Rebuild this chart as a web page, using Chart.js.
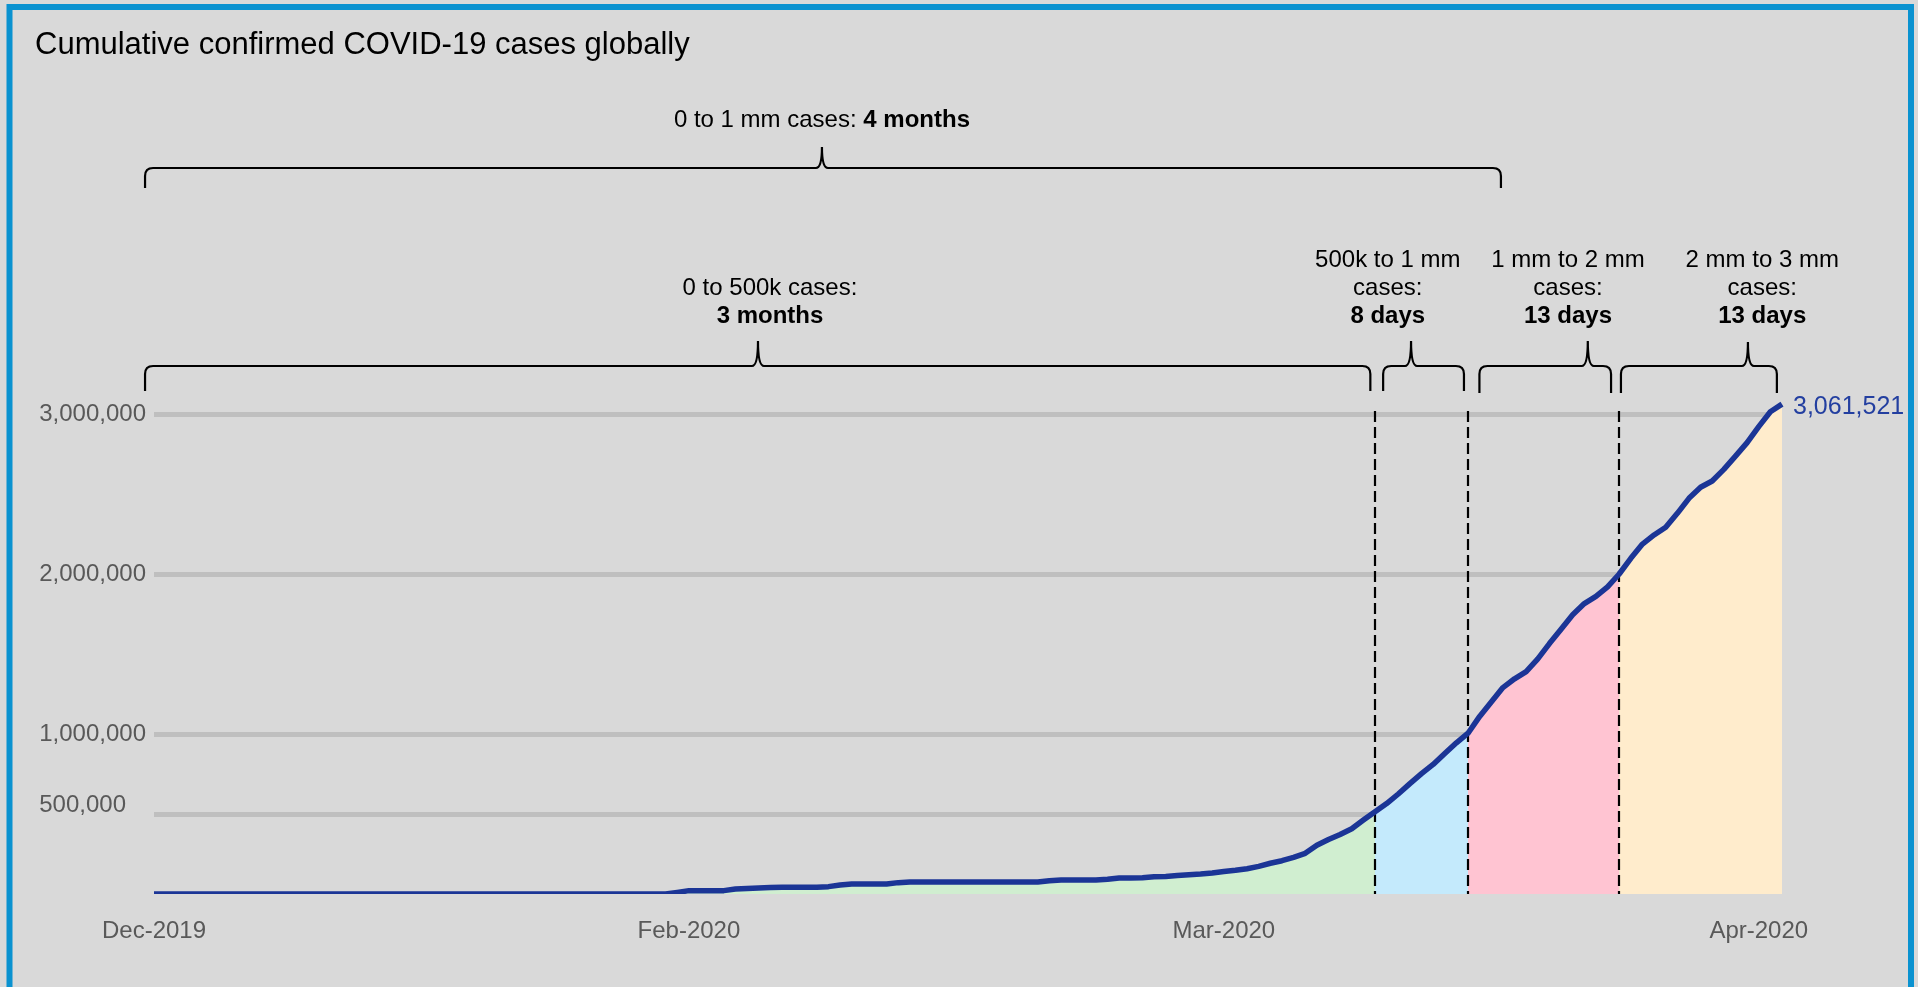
<!DOCTYPE html>
<html>
<head>
<meta charset="utf-8">
<title>Cumulative confirmed COVID-19 cases globally</title>
<script src="https://cdn.jsdelivr.net/npm/chart.js@4.4.1/dist/chart.umd.min.js"></script>
<style>
  html, body { margin: 0; padding: 0; background: #d9d9d9; overflow: hidden; }
  canvas { display: block; }
</style>
</head>
<body>
<canvas id="chart" width="1918" height="987"></canvas>
<script>
// Cumulative confirmed cases, one value per day
const cases = [
  0, 0, 0, 0, 0, 0, 0, 0, 0, 0,
  0, 0, 0, 0, 0, 0, 0, 0, 0, 0,
  0, 0, 0, 0, 0, 0, 0, 0, 0, 0,
  0, 0, 0, 0, 0, 0, 0, 0, 0, 0,
  0, 0, 0, 0, 0, 10000, 21000, 21000, 21000, 21000,
  31000, 35000, 37500, 40000, 42000, 42000, 42000, 42000, 46000, 56000,
  62000, 62000, 62000, 62000, 71000, 75000, 75000, 75000, 75000, 75000,
  75000, 75000, 75000, 75000, 75000, 75000, 75000, 83000, 87500, 87500,
  87500, 87500, 92000, 100000, 100000, 102000, 108000, 110000, 115000, 121000,
  125000, 131000, 140000, 148000, 158000, 173000, 192000, 208000, 229000, 254000,
  305000, 340000, 372000, 408000, 462000, 514000, 565000, 625000, 690000, 752000,
  810000, 878000, 945000, 1005000, 1110000, 1200000, 1290000, 1345000, 1390000, 1470000,
  1565000, 1655000, 1745000, 1815000, 1860000, 1920000, 2000000, 2098000, 2187000, 2244000,
  2292000, 2379000, 2473000, 2542000, 2581000, 2654000, 2737000, 2821000, 2921000, 3014000,
  3061521
];

// Month labels shown on the date axis and the day they sit on
const xTickLabels = ['Dec-2019', 'Feb-2020', 'Mar-2020', 'Apr-2020'];
const xTickDays = [0, 46, 92, 138];

// Value axis ticks
const yTickValues = [500000, 1000000, 2000000, 3000000];

// Days on which 500k, 1 mm and 2 mm cases were passed (first and last day close the ranges)
const phaseDays = [0, 105, 113, 126, 140];
const phaseColors = ['#d0eed0', '#c4eafc', '#ffc4d2', '#ffeccc'];

const categories = cases.map((_, i) => i);

const FONT = "'Liberation Sans', Arial, Helvetica, sans-serif";

// Curly-brace call-outs above the curve: spans and texts are given in days
const braces = [
  { from: -0.77, to: 115.83, tip: 57.44, y: 168, drop: 20, rise: 21, textAt: 57.44, baseline: 127,
    rows: [[['0 to 1 mm cases: ', 'normal'], ['4 months', 'bold']]] },
  { from: -0.77, to: 104.6, tip: 51.94, y: 366, drop: 25, rise: 25, textAt: 52.97, baseline: 295,
    rows: [[['0 to 500k cases:', 'normal']], [['3 months', 'bold']]] },
  { from: 105.7, to: 112.65, tip: 108.1, y: 366, drop: 25, rise: 25, textAt: 106.1, baseline: 267,
    rows: [[['500k to 1 mm', 'normal']], [['cases:', 'normal']], [['8 days', 'bold']]] },
  { from: 113.98, to: 125.3, tip: 123.3, y: 366, drop: 27, rise: 25, textAt: 121.6, baseline: 267,
    rows: [[['1 mm to 2 mm', 'normal']], [['cases:', 'normal']], [['13 days', 'bold']]] },
  { from: 126.15, to: 139.56, tip: 137.07, y: 366, drop: 27, rise: 24, textAt: 138.3, baseline: 267,
    rows: [[['2 mm to 3 mm', 'normal']], [['cases:', 'normal']], [['13 days', 'bold']]] }
];

function drawBrace(ctx, x1, x2, xt, y, drop, rise) {
  const r = 8, rt = 6;
  ctx.beginPath();
  ctx.moveTo(x1, y + drop);
  ctx.lineTo(x1, y + r);
  ctx.quadraticCurveTo(x1, y, x1 + r, y);
  ctx.lineTo(xt - rt, y);
  ctx.quadraticCurveTo(xt, y, xt, y - rise);
  ctx.quadraticCurveTo(xt, y, xt + rt, y);
  ctx.lineTo(x2 - r, y);
  ctx.quadraticCurveTo(x2, y, x2, y + r);
  ctx.lineTo(x2, y + drop);
  ctx.stroke();
}

function drawRow(ctx, parts, cx, baseline, size) {
  let total = 0;
  const widths = parts.map(([txt, weight]) => {
    ctx.font = weight + ' ' + size + 'px ' + FONT;
    const w = ctx.measureText(txt).width;
    total += w;
    return w;
  });
  let x = cx - total / 2;
  parts.forEach(([txt, weight], k) => {
    ctx.font = weight + ' ' + size + 'px ' + FONT;
    ctx.fillText(txt, x, baseline);
    x += widths[k];
  });
}

const decorations = {
  id: 'decorations',
  beforeDraw(chart) {
    const ctx = chart.ctx;
    ctx.save();
    ctx.fillStyle = '#d9d9d9';
    ctx.fillRect(0, 0, chart.width, chart.height);
    ctx.strokeStyle = '#0a92d0';
    ctx.lineWidth = 6;
    ctx.strokeRect(9.5, 7, 1911 - 9.5, 1000);
    ctx.restore();
  },
  beforeDatasetDraw(chart, args) {
    if (args.index !== 0) return;
    const { ctx, scales: { x, y } } = chart;
    ctx.save();
    ctx.strokeStyle = '#000000';
    ctx.lineWidth = 2.2;
    ctx.setLineDash([11, 5]);
    const top = y.getPixelForValue(3000000) - 3;
    const bottom = y.getPixelForValue(0);
    phaseDays.slice(1, -1).forEach(d => {
      const px = Math.round(x.getPixelForValue(d));
      ctx.beginPath();
      ctx.moveTo(px, top);
      ctx.lineTo(px, bottom);
      ctx.stroke();
    });
    ctx.restore();
  },
  afterDraw(chart) {
    const { ctx, scales: { x, y } } = chart;
    ctx.save();

    // braces and their captions
    ctx.strokeStyle = '#000000';
    ctx.lineWidth = 2.2;
    ctx.fillStyle = '#000000';
    ctx.textAlign = 'left';
    ctx.textBaseline = 'alphabetic';
    braces.forEach(b => {
      drawBrace(ctx, x.getPixelForValue(b.from), x.getPixelForValue(b.to),
        x.getPixelForValue(b.tip), b.y, b.drop, b.rise);
      const cx = x.getPixelForValue(b.textAt);
      b.rows.forEach((row, k) => drawRow(ctx, row, cx, b.baseline + k * 28, 24));
    });

    // the 500,000 tick label sits a little above its gridline
    ctx.fillStyle = '#595959';
    ctx.font = '24px ' + FONT;
    ctx.textAlign = 'right';
    ctx.textBaseline = 'middle';
    ctx.fillText((500000).toLocaleString('en-US'), y.left + 91, y.getPixelForValue(500000) - 9);

    // latest total at the end of the curve
    const meta = chart.getDatasetMeta(0);
    const last = meta.data[meta.data.length - 1];
    ctx.fillStyle = '#233fa0';
    ctx.font = '25px ' + FONT;
    ctx.textAlign = 'left';
    ctx.fillText(cases[cases.length - 1].toLocaleString('en-US'), last.x + 11, last.y + 2.5);
    ctx.restore();
  }
};

const phaseSets = phaseColors.map((color, k) => ({
  data: cases.map((v, i) => (i >= phaseDays[k] && i <= phaseDays[k + 1]) ? v : null),
  backgroundColor: color,
  borderWidth: 0,
  pointRadius: 0,
  fill: 'origin',
  tension: 0,
  spanGaps: false
}));

new Chart(document.getElementById('chart'), {
  type: 'line',
  data: {
    labels: categories,
    datasets: [
      {
        data: cases,
        borderColor: '#1b3596',
        borderWidth: 5.5,
        pointRadius: 0,
        fill: false,
        tension: 0,
        borderJoinStyle: 'round',
        borderCapStyle: 'butt'
      },
      ...phaseSets
    ]
  },
  options: {
    responsive: false,
    animation: false,
    devicePixelRatio: 1,
    layout: { padding: { left: 35, right: 136, top: 0, bottom: 0 } },
    plugins: {
      legend: { display: false },
      tooltip: { enabled: false },
      title: {
        display: true,
        text: 'Cumulative confirmed COVID-19 cases globally',
        align: 'start',
        color: '#000000',
        font: { family: FONT, size: 31, weight: 'normal', lineHeight: 1.2 },
        padding: { top: 27, bottom: 301.8 }
      }
    },
    scales: {
      x: {
        type: 'category',
        grid: { display: false },
        border: { display: false },
        ticks: {
          autoSkip: false,
          maxRotation: 0,
          minRotation: 0,
          padding: 15,
          color: '#595959',
          font: { family: FONT, size: 24 },
          callback: (v, i) => {
            const k = xTickDays.indexOf(i);
            return k >= 0 ? xTickLabels[k] : '';
          }
        },
        afterFit: s => { s.height = 93; }
      },
      y: {
        min: 0,
        max: 3300000,
        grid: { color: '#bfbfbf', lineWidth: 5, drawTicks: false },
        border: { display: false },
        ticks: {
          padding: 8,
          color: '#595959',
          font: { family: FONT, size: 24 },
          callback: v => v === 500000 ? '' : Number(v).toLocaleString('en-US')
        },
        afterBuildTicks: s => { s.ticks = yTickValues.map(v => ({ value: v })); },
        afterFit: s => { s.width = 119; }
      }
    }
  },
  plugins: [decorations]
});
</script>
</body>
</html>
